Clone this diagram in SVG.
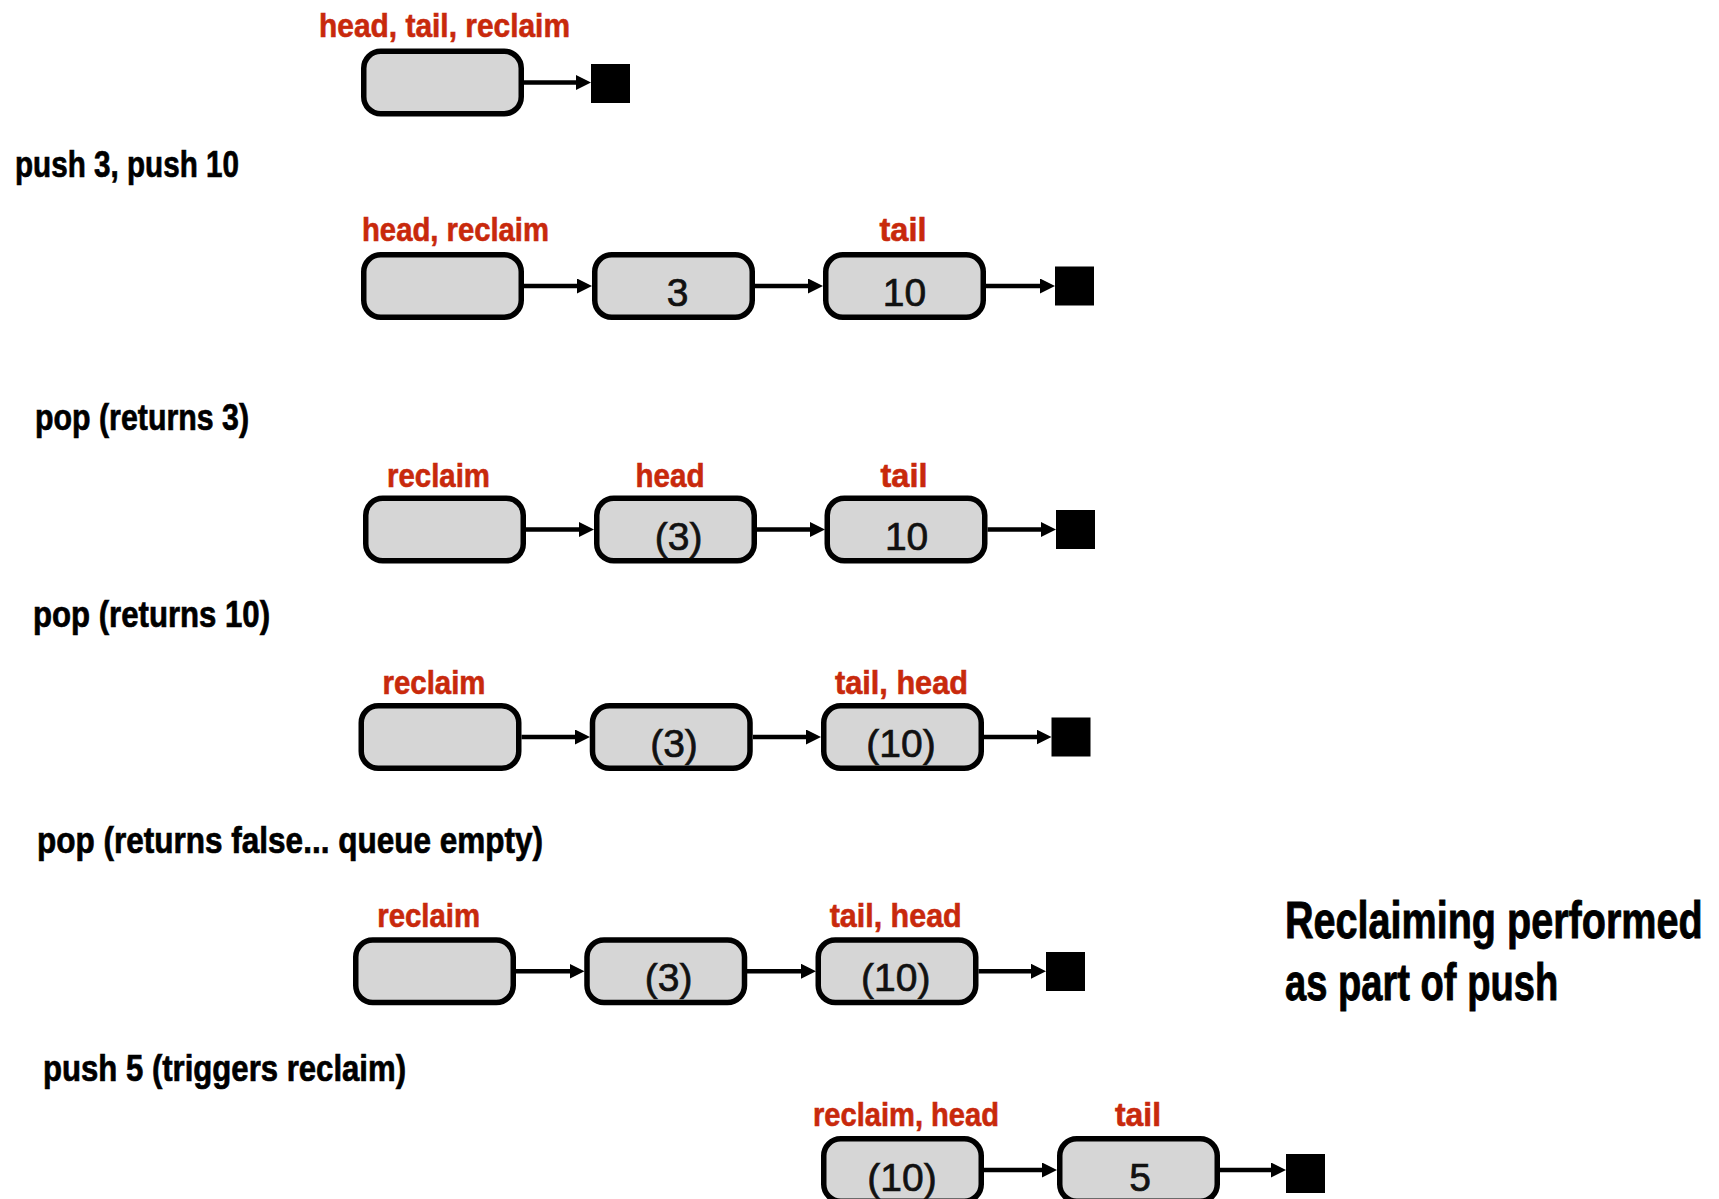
<svg xmlns="http://www.w3.org/2000/svg" width="1719" height="1199" viewBox="0 0 1719 1199">
<style>
.box{fill:#d6d6d6;stroke:#000;stroke-width:5.5}
.end{fill:#000}
.red{font-family:"Liberation Sans",Arial,sans-serif;font-weight:bold;font-size:33px;fill:#c8290c;stroke:#c8290c;stroke-width:0.6;text-anchor:middle}
.lbl{font-family:"Liberation Sans",Arial,sans-serif;font-weight:bold;font-size:37px;fill:#000;stroke:#000;stroke-width:0.7}
.big{font-family:"Liberation Sans",Arial,sans-serif;font-weight:bold;font-size:52px;fill:#000;stroke:#000;stroke-width:0.9}
.num{font-family:"Liberation Sans",Arial,sans-serif;font-size:39px;fill:#111;stroke:#111;stroke-width:0.7;text-anchor:middle}
.arr{stroke:#000;stroke-width:4.5;fill:none;marker-end:url(#ah)}
</style>
<defs>
<marker id="ah" markerUnits="userSpaceOnUse" markerWidth="16" markerHeight="16" refX="7" refY="7.5" orient="auto">
<path d="M0,0 L15,7.5 L0,15 z" fill="#000"/>
</marker>
</defs>
<rect width="1719" height="1199" fill="#fff"/>

<!-- step labels -->
<g id="labels">
<text class="lbl" x="15" y="177" textLength="224" lengthAdjust="spacingAndGlyphs">push 3, push 10</text>
<text class="lbl" x="35" y="430" textLength="214" lengthAdjust="spacingAndGlyphs">pop (returns 3)</text>
<text class="lbl" x="33" y="627" textLength="237" lengthAdjust="spacingAndGlyphs">pop (returns 10)</text>
<text class="lbl" x="37" y="853" textLength="506" lengthAdjust="spacingAndGlyphs">pop (returns false... queue empty)</text>
<text class="lbl" x="43" y="1081" textLength="363" lengthAdjust="spacingAndGlyphs">push 5 (triggers reclaim)</text>
</g>
<g id="note" transform="translate(1285,0) scale(0.761,1)">
<text class="big" x="0" y="938">Reclaiming performed</text>
<text class="big" x="0" y="1000" textLength="359" lengthAdjust="spacingAndGlyphs">as part of push</text>
</g>

<!-- Row 1 -->
<g id="r1n1"><rect class="box" x="363.75" y="51.25" width="157.5" height="62.5" rx="17"/>
<text class="red" x="444.5" y="37" textLength="251" lengthAdjust="spacingAndGlyphs">head, tail, reclaim</text></g>
<g id="r1end"><rect class="end" x="591" y="64" width="39" height="39"/></g>

<!-- Row 2 -->
<g id="r2n1"><rect class="box" x="363.75" y="254.75" width="157.5" height="62.5" rx="17"/>
<text class="red" x="455.5" y="241" textLength="187" lengthAdjust="spacingAndGlyphs">head, reclaim</text></g>
<g id="r2n2"><rect class="box" x="594.75" y="254.75" width="157.5" height="62.5" rx="17"/>
<text class="num" x="677.5" y="306">3</text></g>
<g id="r2n3"><rect class="box" x="825.75" y="254.75" width="157.5" height="62.5" rx="17"/>
<text class="red" x="903" y="241" textLength="47" lengthAdjust="spacingAndGlyphs">tail</text>
<text class="num" x="904.5" y="306">10</text></g>
<g id="r2end"><rect class="end" x="1055" y="266.5" width="39" height="39"/></g>

<!-- Row 3 -->
<g id="r3n1"><rect class="box" x="365.75" y="498.25" width="157.5" height="62.5" rx="17"/>
<text class="red" x="438.5" y="487" textLength="103" lengthAdjust="spacingAndGlyphs">reclaim</text></g>
<g id="r3n2"><rect class="box" x="596.75" y="498.25" width="157.5" height="62.5" rx="17"/>
<text class="red" x="670" y="487" textLength="69" lengthAdjust="spacingAndGlyphs">head</text>
<text class="num" x="678.6" y="549.5">(3)</text></g>
<g id="r3n3"><rect class="box" x="827.25" y="498.25" width="157.5" height="62.5" rx="17"/>
<text class="red" x="904" y="487" textLength="47" lengthAdjust="spacingAndGlyphs">tail</text>
<text class="num" x="906.6" y="549.5">10</text></g>
<g id="r3end"><rect class="end" x="1056" y="510" width="39" height="39"/></g>

<!-- Row 4 -->
<g id="r4n1"><rect class="box" x="361.25" y="705.75" width="157.5" height="62.5" rx="17"/>
<text class="red" x="434" y="694" textLength="103" lengthAdjust="spacingAndGlyphs">reclaim</text></g>
<g id="r4n2"><rect class="box" x="592.5" y="705.75" width="157.5" height="62.5" rx="17"/>
<text class="num" x="674" y="757">(3)</text></g>
<g id="r4n3"><rect class="box" x="823.75" y="705.75" width="157.5" height="62.5" rx="17"/>
<text class="red" x="901.5" y="694" textLength="133" lengthAdjust="spacingAndGlyphs">tail, head</text>
<text class="num" x="901" y="757">(10)</text></g>
<g id="r4end"><rect class="end" x="1051.5" y="717.5" width="39" height="39"/></g>

<!-- Row 5 -->
<g id="r5n1"><rect class="box" x="355.75" y="940" width="157.5" height="62.5" rx="17"/>
<text class="red" x="428.7" y="927" textLength="103" lengthAdjust="spacingAndGlyphs">reclaim</text></g>
<g id="r5n2"><rect class="box" x="587" y="940" width="157.5" height="62.5" rx="17"/>
<text class="num" x="668.7" y="991">(3)</text></g>
<g id="r5n3"><rect class="box" x="818.25" y="940" width="157.5" height="62.5" rx="17"/>
<text class="red" x="895.7" y="927" textLength="132" lengthAdjust="spacingAndGlyphs">tail, head</text>
<text class="num" x="895.7" y="991">(10)</text></g>
<g id="r5end"><rect class="end" x="1046" y="952" width="39" height="39"/></g>

<!-- Row 6 -->
<g id="r6n1"><rect class="box" x="823.75" y="1138.75" width="157.5" height="62.5" rx="17"/>
<text class="red" x="906" y="1126" textLength="186" lengthAdjust="spacingAndGlyphs">reclaim, head</text>
<text class="num" x="902" y="1191">(10)</text></g>
<g id="r6n2"><rect class="box" x="1059.75" y="1138.75" width="157.5" height="62.5" rx="17"/>
<text class="red" x="1138" y="1126" textLength="46" lengthAdjust="spacingAndGlyphs">tail</text>
<text class="num" x="1140" y="1191">5</text></g>
<g id="r6end"><rect class="end" x="1286" y="1154" width="39" height="39"/></g>

<!-- connectors -->
<g id="connectors">
<line class="arr" x1="524" y1="82.5" x2="583" y2="82.5"/>

<line class="arr" x1="524" y1="286" x2="584" y2="286"/>
<line class="arr" x1="755" y1="286" x2="815" y2="286"/>
<line class="arr" x1="986" y1="286" x2="1047" y2="286"/>

<line class="arr" x1="526" y1="529.5" x2="586" y2="529.5"/>
<line class="arr" x1="757" y1="529.5" x2="817" y2="529.5"/>
<line class="arr" x1="987.5" y1="529.5" x2="1048" y2="529.5"/>

<line class="arr" x1="521.5" y1="737" x2="582" y2="737"/>
<line class="arr" x1="753" y1="737" x2="813" y2="737"/>
<line class="arr" x1="984" y1="737" x2="1043.5" y2="737"/>

<line class="arr" x1="516" y1="971.25" x2="576.5" y2="971.25"/>
<line class="arr" x1="747" y1="971.25" x2="808" y2="971.25"/>
<line class="arr" x1="978.5" y1="971.25" x2="1038" y2="971.25"/>

<line class="arr" x1="984" y1="1170" x2="1049" y2="1170"/>
<line class="arr" x1="1220" y1="1170" x2="1278" y2="1170"/>
</g>
</svg>
